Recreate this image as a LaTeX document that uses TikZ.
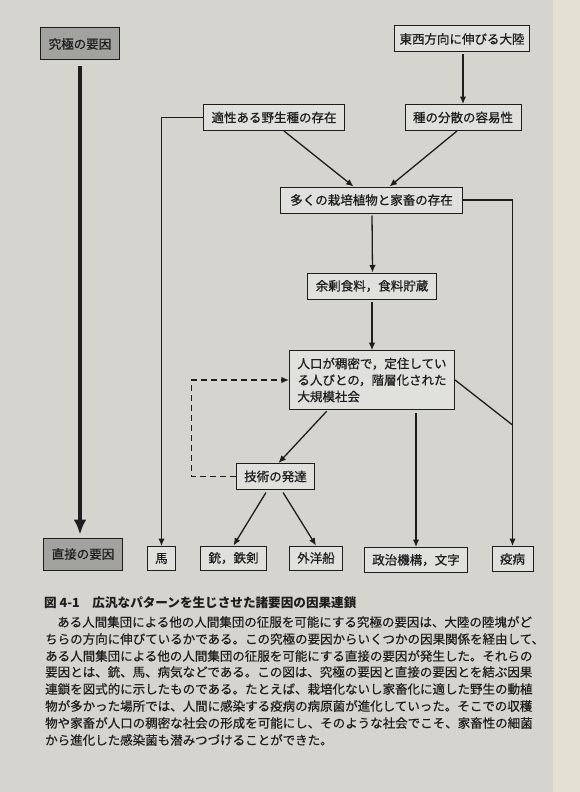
\documentclass[tikz,border=0pt]{standalone}
\usepackage{fontspec}
\newfontfamily\jpfont[FakeBold=0.7]{Noto Sans CJK JP}
\newfontfamily\jpbody[FakeBold=0.4]{Noto Sans CJK JP}
\newfontfamily\jpcap{Noto Sans CJK JP}
\usepackage{tikz}
\usetikzlibrary{arrows.meta, positioning, calc}

\definecolor{pagebg}{RGB}{213,212,207}
\definecolor{edgebg}{RGB}{228,224,212}
\definecolor{boxbg}{RGB}{224,224,220}
\definecolor{causegray}{RGB}{162,162,159}
\definecolor{ink}{RGB}{30,30,30}

\tikzset{
  factor/.style={draw=ink, fill=boxbg, line width=1pt, inner xsep=8pt, inner ysep=0pt,
    minimum height=26pt, text=ink, font=\jpfont\fontsize{12.5}{16.5}\selectfont},
  causebox/.style={factor, fill=causegray, minimum height=32pt},
  link/.style={draw=ink, line width=1.3pt, -{Latex[length=7.5pt,width=6.5pt]}},
  textline/.style={anchor=west, inner sep=0pt, text=ink,
    font=\jpbody\fontsize{12.5}{17}\selectfont}
}

\begin{document}
\begin{tikzpicture}[x=1pt, y=-1pt]
    % Page
    \fill[pagebg] (0,0) rectangle (580,792);
    \fill[edgebg] (553,0) rectangle (580,792);
    \useasboundingbox (0,0) rectangle (580,792);

    % Ultimate and proximate causes
    \node[causebox] (kyukyoku) at (80,44) {究極の要因};
    \node[causebox] (chokusetsu) at (83,554) {直接の要因};
    \draw[ink, line width=4pt, -{Latex[length=15pt,width=13pt]}, shorten <=6pt, shorten >=3pt]
        (kyukyoku.south) -- (kyukyoku.south |- chokusetsu.north);

    % Upper chain
    \node[factor, inner xsep=5pt] (touzai) at (462,39) {東西方向に伸びる大陸};
    \node[factor] (tekisei) at (274,117.5) {適性ある野生種の存在};
    \node[factor] (bunsan) at (463,117.5) {種の分散の容易性};
    \node[factor, inner xsep=10pt] (ooku) at (371.5,200) {多くの栽培植物と家畜の存在};
    \node[factor] (yojo) at (372,286) {余剰食料，食料貯蔵};
    \node[factor, align=left, inner ysep=7pt] (jinko) at (372,380)
        {人口が稠密で，定住してい\\る人びとの，階層化された\\大規模社会};
    \node[factor] (gijutsu) at (275.5,476.5) {技術の発達};

    % Bottom row
    \node[factor, minimum height=24pt] (uma) at (161.5,558.5) {馬};
    \node[factor, minimum height=24pt] (ju) at (233.5,558) {銃，鉄剣};
    \node[factor, minimum height=24pt] (gaiyosen) at (316,558) {外洋船};
    \node[factor, minimum height=25pt] (seiji) at (416,560) {政治機構，文字};
    \node[factor, minimum height=25pt] (ekibyo) at (512.5,559) {疫病};

    % Connectors
    \draw[link, shorten <=2pt] (touzai.south -| bunsan.north) -- (bunsan.north);
    \draw[link] ([xshift=10pt]tekisei.south) -- ([xshift=-18pt]ooku.north);
    \draw[link] ([xshift=-6pt]bunsan.south) -- ([xshift=18pt]ooku.north);
    \draw[link] (tekisei.west) -| (uma.north);
    \draw[link] (ooku.east) -| (ekibyo.north);
    \draw[link, shorten <=2pt] ([xshift=0.5pt]ooku.south) -- ([xshift=0.5pt]yojo.north);
    \draw[link, shorten <=2pt] (yojo.south) -- (jinko.north);
    \coordinate (merge) at (ekibyo.north |- 0,425);
    \draw[ink, line width=1.3pt] (jinko.east) -- (merge);
    \draw[link, shorten <=2pt] ([xshift=-44pt]jinko.south) -- ([xshift=3pt]gijutsu.north);
    \draw[link, shorten <=3pt] (seiji.north |- jinko.south) -- (seiji.north);
    \draw[link, shorten <=3pt] ([xshift=-8pt]gijutsu.south) -- (ju.north);
    \draw[link, shorten <=3pt] ([xshift=6pt]gijutsu.south) -- (gaiyosen.north);
    \draw[link, dash pattern=on 6pt off 4pt] (gijutsu.west) -- ++(-44,0) |- (jinko.west);

    % Caption
    \node[textline, font=\jpcap\bfseries\fontsize{12.6}{16}\selectfont] (caption) at (44,603)
        {図 4-1\quad 広汎なパターンを生じさせた諸要因の因果連鎖};

    % Body text
    \node[textline] (line1) at (57,622) {ある人間集団による他の人間集団の征服を可能にする究極の要因は、大陸の陸塊がど};
    \node[textline] (line2) at (45,639) {ちらの方向に伸びているかである。この究極の要因からいくつかの因果関係を経由して、};
    \node[textline] (line3) at (45,656) {ある人間集団による他の人間集団の征服を可能にする直接の要因が発生した。それらの};
    \node[textline] (line4) at (45,672) {要因とは、銃、馬、病気などである。この図は、究極の要因と直接の要因とを結ぶ因果};
    \node[textline] (line5) at (45,689) {連鎖を図式的に示したものである。たとえば、栽培化ないし家畜化に適した野生の動植};
    \node[textline] (line6) at (45,706) {物が多かった場所では、人間に感染する疫病の病原菌が進化していった。そこでの収穫};
    \node[textline] (line7) at (45,723) {物や家畜が人口の稠密な社会の形成を可能にし、そのような社会でこそ、家畜性の細菌};
    \node[textline] (line8) at (45,740) {から進化した感染菌も潜みつづけることができた。};
\end{tikzpicture}
\end{document}
